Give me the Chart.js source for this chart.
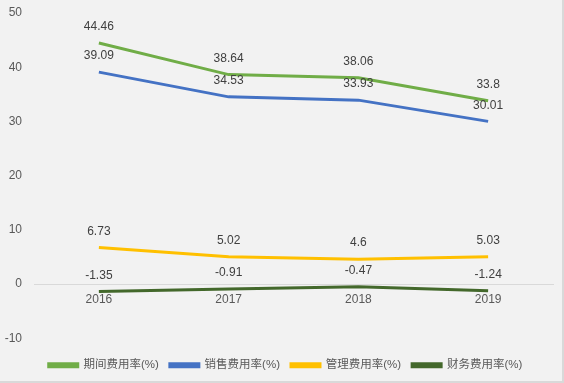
<!DOCTYPE html>
<html>
<head>
<meta charset="utf-8">
<script src="https://cdn.jsdelivr.net/npm/chart.js@4/dist/chart.umd.min.js"></script>
<style>
html,body{margin:0;padding:0;background:#f2f2f2;}
#wrap{width:564px;height:383px;position:relative;box-sizing:border-box;border-right:2px solid #d9d9d9;border-bottom:2px solid #d9d9d9;}
</style>
</head>
<body>
<div id="wrap"><canvas id="c" width="562" height="381"></canvas></div>
<script>
const years = ['2016', '2017', '2018', '2019'];
const periodRate = [44.46, 38.64, 38.06, 33.8];
const salesRate = [39.09, 34.53, 33.93, 30.01];
const adminRate = [6.73, 5.02, 4.6, 5.03];
const financeRate = [-1.35, -0.91, -0.47, -1.24];
const seriesNames = ['期间费用率(%)', '销售费用率(%)', '管理费用率(%)', '财务费用率(%)'];
const yTicks = [-10, 0, 10, 20, 30, 40, 50];

const FONT = '"Liberation Sans", "Noto Sans CJK SC", sans-serif';

const labelPlugin = {
  id: 'pointLabels',
  beforeDraw(chart) {
    // centre the legend row on the whole canvas, as in the reference
    const lg = chart.legend;
    if (lg && !lg._shifted) { lg.left += 9; lg.right += 9; lg._shifted = true; }
  },
  afterDatasetsDraw(chart) {
    const ctx = chart.ctx;
    ctx.save();
    ctx.font = '12px ' + FONT;
    ctx.fillStyle = '#404040';
    ctx.textAlign = 'center';
    ctx.textBaseline = 'middle';
    chart.data.datasets.forEach((ds, i) => {
      const meta = chart.getDatasetMeta(i);
      meta.data.forEach((pt, j) => {
        ctx.fillText(String(ds.data[j]), pt.x, pt.y - 16);
      });
    });
    ctx.restore();
  }
};

function ds(label, data, color) {
  return {
    label, data,
    borderColor: color,
    backgroundColor: color,
    borderWidth: 3,
    pointRadius: 0,
    tension: 0,
    fill: false
  };
}

new Chart(document.getElementById('c'), {
  type: 'line',
  data: {
    labels: years,
    datasets: [
      ds(seriesNames[0], periodRate, '#70ad47'),
      ds(seriesNames[1], salesRate, '#4472c4'),
      ds(seriesNames[2], adminRate, '#ffc000'),
      ds(seriesNames[3], financeRate, '#43682b')
    ]
  },
  options: {
    responsive: false,
    animation: false,
    layout: { padding: { left: 0, right: 9, top: 13, bottom: 0 } },
    plugins: {
      tooltip: { enabled: false },
      legend: {
        position: 'bottom',
        title: { display: true, text: '', font: { size: 1 }, padding: { top: 0, bottom: 9 } },
        labels: {
          boxWidth: 29,
          boxHeight: 3,
          padding: 11,
          color: '#595959',
          font: { size: 11.5, family: FONT }
        }
      }
    },
    scales: {
      x: {
        type: 'category',
        position: { y: 0 },
        offset: true,
        grid: { display: false, drawTicks: false },
        border: { display: true, color: '#d9d9d9', width: 1 },
        ticks: { color: '#595959', font: { size: 12, family: FONT }, padding: 8 }
      },
      y: {
        min: -10, max: 50,
        afterFit(scale) { scale.width = 34; scale.paddingTop = 0; scale.paddingBottom = 0; },
        afterBuildTicks(scale) { scale.ticks = yTicks.map(v => ({ value: v })); },
        grid: { display: false, drawTicks: false },
        border: { display: false },
        ticks: { color: '#595959', font: { size: 12, family: FONT }, padding: 12 }
      }
    }
  },
  plugins: [labelPlugin]
});
</script>
</body>
</html>
